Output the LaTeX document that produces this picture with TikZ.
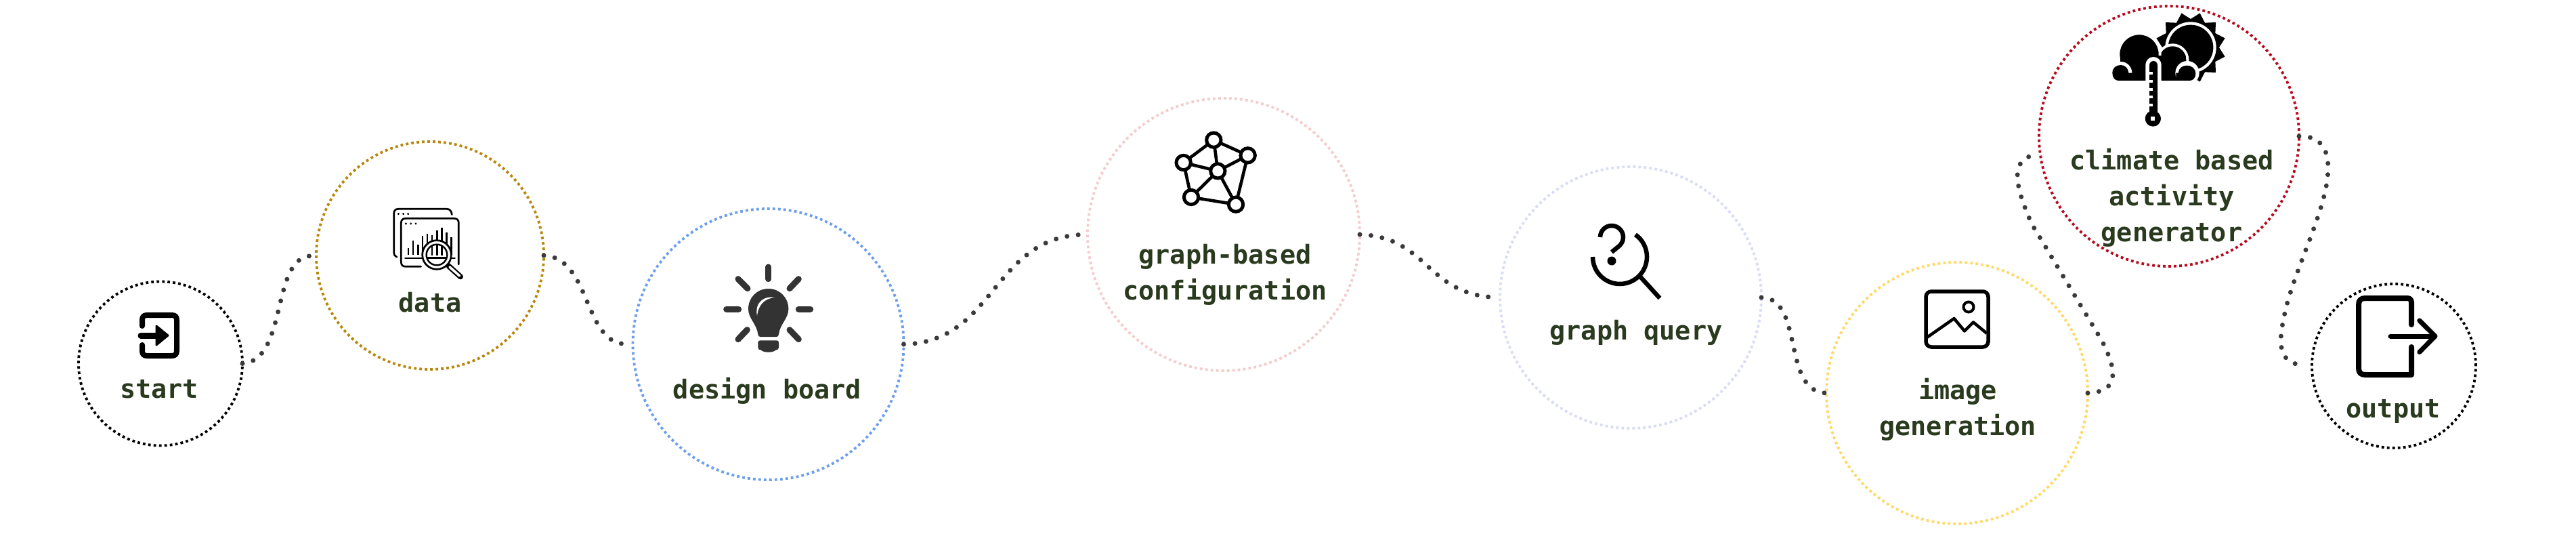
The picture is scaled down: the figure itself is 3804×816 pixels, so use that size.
\documentclass[tikz,border=0pt]{standalone}
\usepackage{fontspec}
\newfontfamily\labelfont{DejaVu Sans Mono}
\definecolor{inkolive}{HTML}{2A3A1E}
\definecolor{dotgrey}{HTML}{3A3A3A}
\definecolor{bulbgrey}{HTML}{333333}
\definecolor{cgold}{HTML}{B8860B}
\definecolor{cblue}{HTML}{6D9EEB}
\definecolor{cpink}{HTML}{F4CCCC}
\definecolor{cmist}{HTML}{D9DCF5}
\definecolor{cyellow}{HTML}{FFD966}
\definecolor{cred}{HTML}{B6091C}
\tikzset{
  ring/.style={circle,draw=#1,line width=3.8pt,dash pattern=on 3.8pt off 4.2pt,inner sep=0pt,outer sep=0pt},
  lab/.style={font=\labelfont\bfseries\fontsize{38.5}{53}\selectfont,text=inkolive,align=center,inner sep=0pt,outer sep=0pt},
  link/.style={draw=dotgrey,line width=7pt,line cap=round,dash pattern=on 0pt off 16.6pt},
  pen/.style={draw=black,line width=#1,line cap=round,line join=round}
}
\begin{document}
\begin{tikzpicture}[x=1pt,y=-1pt]
\useasboundingbox (0,0) rectangle (3804,816);
\fill[white] (0,0) rectangle (3804,816);
% circles
\node[ring=black,minimum size=242pt] (start) at (237,536.5) {};
\node[ring=cgold,minimum size=336pt] (data) at (635,377) {};
\node[ring=cblue,minimum size=400pt] (design) at (1134.5,508) {};
\node[ring=cpink,minimum size=402pt] (graph) at (1807,346) {};
\node[ring=cmist,minimum size=386pt] (query) at (2408,439) {};
\node[ring=cyellow,minimum size=386pt] (image) at (2890,580) {};
\node[ring=cred,minimum size=384pt] (climate) at (3203,201) {};
\node[ring=black,minimum size=242pt] (output) at (3535,540) {};
% connectors
\draw[link,shorten >=9pt] (start.east) .. controls (425,532) and (400,382) .. (data.west);
\draw[link,shorten >=12pt] (data.east) .. controls (872,380) and (862,505) .. (design.west);
\draw[link,shorten >=6pt] (design.east) .. controls (1470,505) and (1465,350) .. (graph.west);
\draw[link,shorten >=5pt] (graph.east) .. controls (2110,350) and (2105,435) .. (query.west);
\draw[link] (query.east) .. controls (2665,440) and (2630,578) .. (image.west);
\draw[link,shorten >=8pt] (image.east) .. controls (3128,578) and (3128,550) .. (3104,503)
   .. controls (3069,445) and (3035,388) .. (3000,330)
   .. controls (2978,280) and (2965,235) .. (climate.188);
\draw[link,shorten >=14pt] (climate.east) .. controls (3440,200) and (3445,240) .. (3431,293)
   .. controls (3417,345) and (3390,400) .. (3376,453)
   .. controls (3365,500) and (3360,535) .. (output.west);
% labels
\node[lab,anchor=base] (tstart) at (235,587) {start};
\node[lab,anchor=base] (tdata) at (635,460) {data};
\node[lab,anchor=base] (tdesign) at (1133,588) {design board};
\node[lab,anchor=center] (tgraph) at (1809,405) {graph-based\\configuration};
\node[lab,anchor=base] (tquery) at (2416,501) {graph query};
\node[lab,anchor=center] (timage) at (2891,604) {image\\generation};
\node[lab,anchor=center] (tclimate) at (3207,292) {climate based\\activity\\generator};
\node[lab,anchor=base] (toutput) at (3534,616) {output};
% start icon
\draw[pen=8pt] (210,481) -- (210,473) .. controls (210,467) and (212,465) .. (218,465) -- (253,465) .. controls (259,465) and (261,467) .. (261,473) -- (261,517) .. controls (261,523) and (259,525) .. (253,525) -- (218,525) .. controls (212,525) and (210,523) .. (210,517) -- (210,509);
\draw[pen=9pt] (208,495) -- (232,495);
\filldraw[pen=3pt,fill=black] (231,481) -- (248,495) -- (231,509) -- cycle;
% output icon
\draw[pen=8pt] (3561,479) -- (3561,447) .. controls (3561,442) and (3559,440) .. (3554,440) -- (3493,440) .. controls (3486,440) and (3483,443) .. (3483,450) -- (3483,543) .. controls (3483,550) and (3486,553) .. (3493,553) -- (3561,553) -- (3561,512);
\draw[pen=7pt] (3530,496) -- (3594,496);
\draw[pen=7pt] (3572.8,473) -- (3596,496) -- (3572.8,519.5);
% data icon
\begin{scope}[shift={(560,290)},scale=1/3]
\draw[pen=2.7pt] (78,268) .. controls (70,264) and (65,258) .. (65,250) -- (65,75) .. controls (65,62) and (72,55) .. (85,55) -- (300,55) .. controls (313,55) and (320,65) .. (322,80);
\draw[pen=2.7pt] (185,310) -- (117,310) .. controls (104,310) and (97,303) .. (97,290) -- (97,117) .. controls (97,104) and (104,97) .. (117,97) -- (332,97) .. controls (345,97) and (352,104) .. (352,117) -- (352,300);
\foreach \p in {85,107,128} \fill (\p,77) circle[radius=5pt];
\foreach \p in {118,140,162} \fill (\p,120) circle[radius=5pt];
\draw[pen=2.7pt] (115,273) -- (195,273) (318,273) -- (335,273);
\foreach \p/\q in {129/228,150/195,172/212,192/175,213/165,234/170,256/150,277/138,298/160,320/180}
  \draw[line width=2.5pt] (\p,\q) -- (\p,258);
\draw[line width=8pt,line cap=round] (308,308) -- (360,355);
\draw[line width=3.6pt,white,line cap=round] (312,312) -- (356,351);
\filldraw[draw=black,fill=white,line width=2.7pt] (255,258) circle[radius=64pt];
\draw[line width=2.4pt] (255,258) circle[radius=46pt];
\foreach \p in {234,256,277} \draw[line width=2.5pt] (\p,216) -- (\p,262);
\draw[line width=2.5pt] (210,272) -- (300,272);
\end{scope}
% bulb icon
\begin{scope}[shift={(1040,370)},scale=1/3]
\foreach \a/\b/\c/\d in {284/72/284/125,418/125/378/167,418/258/470/258,378/350/418/392,190/350/150/392,98/258/152/258,150/125/192/167}
  \draw[draw=bulbgrey,line width=9pt,line cap=round] (\a,\b) -- (\c,\d);
\fill[bulbgrey] (284,168) .. controls (335,168) and (373,208) .. (373,258) .. controls (373,300) and (335,325) .. (330,370) .. controls (329,378) and (325,381) .. (320,381) -- (248,381) .. controls (243,381) and (239,378) .. (238,370) .. controls (233,325) and (195,300) .. (195,258) .. controls (195,208) and (233,168) .. (284,168) -- cycle;
\fill[bulbgrey] (248,397) -- (320,397) .. controls (327,397) and (330,400) .. (330,407) -- (330,428) .. controls (330,436) and (324,440) .. (316,440) .. controls (306,452) and (262,452) .. (252,440) .. controls (244,440) and (238,436) .. (238,428) -- (238,407) .. controls (238,400) and (241,397) .. (248,397) -- cycle;
\fill[white] (312,207) .. controls (270,198) and (222,225) .. (234,288) .. controls (240,240) and (265,212) .. (312,207) -- cycle;
\end{scope}
% network icon
\begin{scope}[shift={(1710,180)},scale=1/3]
\coordinate (na) at (247,80);
\coordinate (nb) at (398,148);
\coordinate (nc) at (265,217);
\coordinate (nd) at (113,180);
\coordinate (ne) at (147,333);
\coordinate (nf) at (345,365);
\draw[line width=4.6pt] (na)--(nb) (na)--(nc) (na)--(nd) (nb)--(nc) (nb)--(nf) (nc)--(nd) (nc)--(ne) (nc)--(nf) (nd)--(ne) (ne)--(nf);
\foreach \n in {na,nb,nc,nd,ne,nf} \filldraw[draw=black,fill=white,line width=5pt] (\n) circle[radius=32pt];
\end{scope}
% query icon
\draw[line width=6.5pt] (2352,379) arc[start angle=180,end angle=415,radius=40pt];
\draw[line width=6.5pt] (2421,407) -- (2451,440);
\draw[line width=6.5pt] (2363,350) arc[start angle=180,end angle=-50,radius=17pt] -- (2380,372);
\fill (2380,385) circle[radius=6.5pt];
% image icon
\draw[line width=5.5pt,rounded corners=8pt] (2844,430) rectangle (2936,512);
\draw[line width=4pt] (2907,453) circle[radius=7.5pt];
\draw[line width=4.5pt,line join=round] (2845.4,498) -- (2885.6,470) -- (2901,488.5) -- (2914,475.5) -- (2934,492);
% climate icon
\begin{scope}[shift={(3080,10)},scale=1/3]
\foreach \a in {15,45,...,345}
  \fill ([shift={(465,180)}]\a:157) -- ([shift={(465,180)}]\a+18:122) -- ([shift={(465,180)}]\a-18:122) -- cycle;
\fill (465,180) circle[radius=125pt];
\fill[white] (465,180) circle[radius=113pt];
\fill (465,180) circle[radius=100pt];
\fill[white] (385,235) circle[radius=72pt];
\fill (385,235) circle[radius=60pt];
\fill[white] (237,210) circle[radius=98pt];
\fill (237,210) circle[radius=86pt];
\fill (152,215) rectangle (445,327);
\fill[white] (450,293) circle[radius=53pt];
\fill[white] (155,293) circle[radius=50pt];
\fill (118,293) .. controls (118,270) and (135,258) .. (155,258) .. controls (175,258) and (188,272) .. (190,293) -- (240,293) -- (240,327) -- (145,327) .. controls (128,327) and (118,312) .. (118,293) -- cycle;
\fill (410,293) .. controls (412,272) and (428,260) .. (448,260) .. controls (470,260) and (487,275) .. (487,295) .. controls (487,315) and (475,327) .. (460,327) -- (400,327) -- (400,293) -- cycle;
\fill[white] (265,340) -- (265,260) .. controls (265,235) and (282,222) .. (300,222) .. controls (318,222) and (335,235) .. (335,260) -- (335,340) -- cycle;
\fill (282,465) -- (282,260) .. controls (282,248) and (290,240) .. (300,240) .. controls (310,240) and (318,248) .. (318,260) -- (318,465) -- cycle;
\foreach \q in {295,330,365,400,435} \fill[white] (282,\q-6) rectangle (298,\q+6);
\fill (298,495) circle[radius=35pt];
\fill[white] (289,486) rectangle (307,504);
\end{scope}
\end{tikzpicture}
\end{document}
